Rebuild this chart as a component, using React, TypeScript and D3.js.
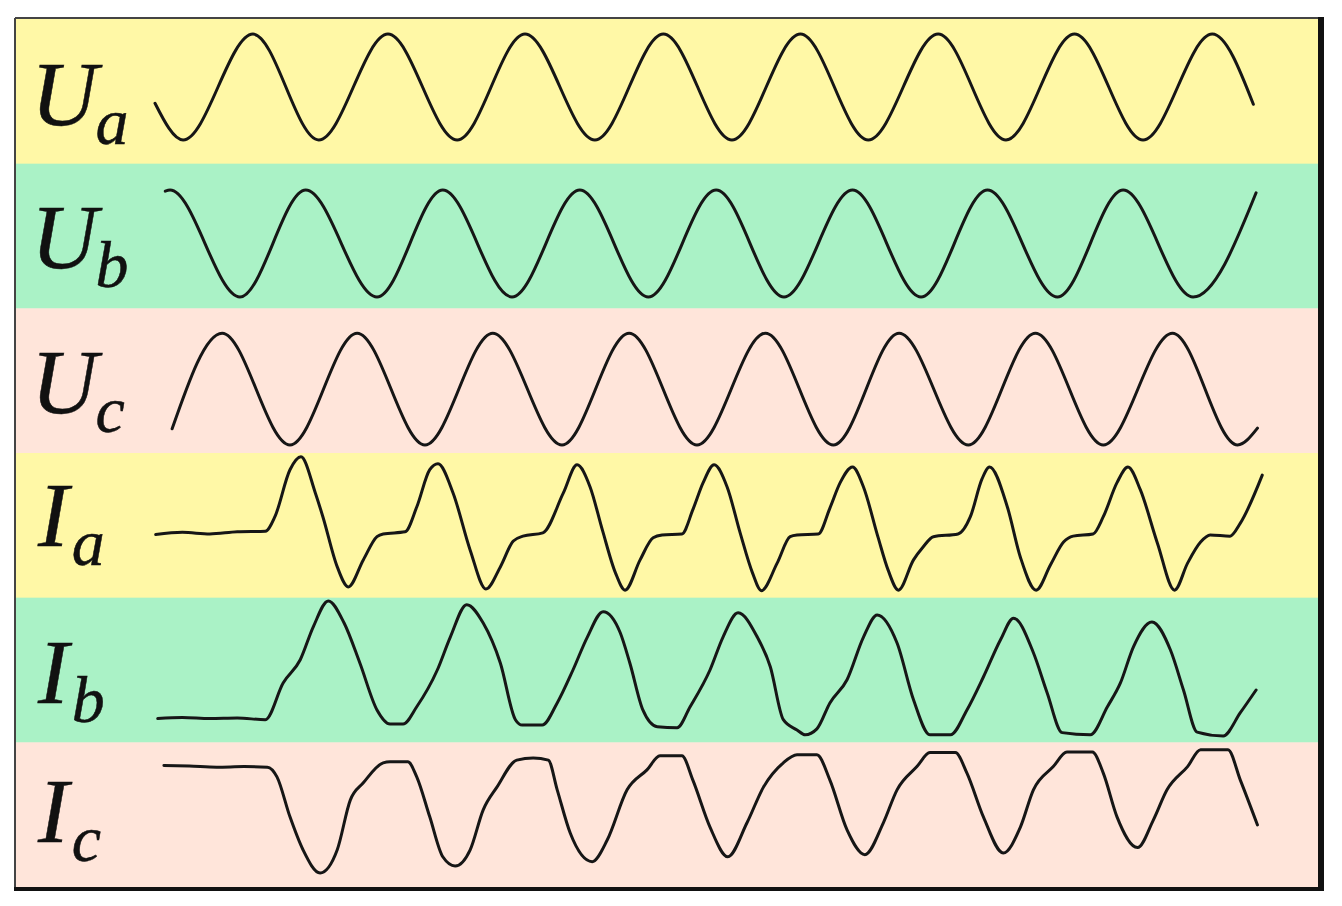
import React from 'react';
import * as d3 from 'd3';

const W = 1342;
const H = 906;

// time in ms (50 Hz, about 8 cycles), values in p.u.
const rowKeys = ['Ua', 'Ub', 'Uc', 'Ia', 'Ib', 'Ic'];
const mainLetters = ['U', 'U', 'U', 'I', 'I', 'I'];
const subLetters = ['a', 'b', 'c', 'a', 'b', 'c'];
const bandColors = ['#FFF8A6', '#AAF2C6', '#FFE5DA', '#FFF8A6', '#AAF2C6', '#FFE5DA'];

const Ua: [number, number][] = [
  [0, -0.22], [4.1, -0.9], [14.3, 1.06], [23.9, -0.9], [34.0, 1.06], [44.1, -0.9],
  [54.0, 1.06], [64.2, -0.9], [74.2, 1.06], [84.2, -0.9], [94.2, 1.06], [104.1, -0.9],
  [114.3, 1.06], [124.2, -0.9], [134.2, 1.06], [144.2, -0.9], [154.3, 1.06], [160.3, -0.24],
];

const Ub: [number, number][] = [
  [1.5, 0.83], [2.2, 0.85], [12.4, -1.13], [22.0, 0.85], [32.4, -1.13], [42.0, 0.85],
  [52.1, -1.13], [62.0, 0.85], [72.0, -1.13], [81.9, 0.85], [91.8, -1.13], [101.8, 0.85],
  [111.8, -1.13], [121.5, 0.85], [131.7, -1.13], [141.3, 0.85], [151.5, -1.13], [160.7, 0.8],
];

const Uc: [number, number][] = [
  [2.5, -0.89], [9.8, 0.88], [19.7, -1.19], [29.5, 0.88], [39.4, -1.19], [49.3, 0.88],
  [59.4, -1.19], [69.2, 0.88], [79.1, -1.19], [89.1, 0.88], [99.0, -1.19], [108.6, 0.88],
  [118.7, -1.19], [128.5, 0.88], [138.4, -1.19], [148.5, 0.88], [158.0, -1.19], [160.9, -0.88],
];

const Ia: [number, number][] = [
  [0.1, -0.17], [4.0, -0.13], [8.0, -0.16], [12.0, -0.12], [16.1, -0.11],
  [17.5, 0.16], [19.7, 1.03], [21.3, 1.27], [23.4, 0.6], [24.5, 0.16], [26.6, -0.77], [28.2, -1.14],
  [30.4, -0.64], [32.4, -0.21], [33.3, -0.16], [36.5, -0.12], [38.2, 0.34], [40.1, 1.03], [41.3, 1.14],
  [43.5, 0.6], [46.0, -0.46], [48.3, -1.18], [50.4, -0.77], [52.3, -0.29], [53.7, -0.2], [56.6, -0.14],
  [59.6, 0.6], [61.6, 1.12], [63.5, 0.71], [65.3, -0.09], [67.2, -0.88], [68.6, -1.2],
  [70.8, -0.64], [72.7, -0.23], [74.0, -0.18], [76.9, -0.16], [78.5, 0.29], [80.0, 0.79], [81.6, 1.12],
  [83.5, 0.71], [85.4, -0.14], [87.2, -0.88], [88.5, -1.21], [90.8, -0.7], [92.7, -0.21], [93.7, -0.18],
  [96.8, -0.16], [98.5, 0.32], [100.0, 0.79], [101.8, 1.08], [103.4, 0.71], [105.5, -0.21], [107.0, -0.83],
  [108.5, -1.2], [110.7, -0.64], [112.1, -0.4], [113.6, -0.21], [117.2, -0.16], [119.0, 0.16], [120.7, 0.86],
  [121.8, 1.08], [124.4, 0.34], [126.3, -0.59], [128.6, -1.2], [130.7, -0.73], [132.6, -0.31], [134.0, -0.2],
  [136.9, -0.16], [138.4, 0.16], [140.4, 0.79], [142.0, 1.08], [143.8, 0.66], [146.3, -0.33], [148.8, -1.2],
  [150.7, -0.7], [152.6, -0.31], [154.0, -0.18], [156.9, -0.2], [158.4, 0.04], [161.6, 0.93],
];

const Ib: [number, number][] = [
  [0.4, -0.9], [4.0, -0.88], [8.0, -0.9], [12.0, -0.89], [16.1, -0.92],
  [18.7, -0.24], [21.2, 0.19], [23.1, 0.8], [25.3, 1.28], [27.6, 0.87], [29.9, 0.13], [32.4, -0.74],
  [34.3, -1.0], [36.2, -1.0], [38.2, -0.68], [41.2, 0.0], [43.1, 0.61], [45.5, 1.21], [47.9, 0.87],
  [50.4, 0.13], [52.6, -0.92], [53.6, -1.02], [56.5, -1.02], [58.7, -0.61], [61.0, 0.0], [63.1, 0.61],
  [65.4, 1.08], [67.9, 0.69], [69.3, 0.13], [71.2, -0.74], [73.3, -1.05], [76.2, -1.07], [78.1, -0.68],
  [81.0, 0.0], [82.9, 0.61], [85.1, 1.06], [87.9, 0.61], [89.8, 0.06], [91.7, -0.92], [93.7, -1.11],
  [94.9, -1.2], [96.6, -1.09], [98.5, -0.61], [101.0, -0.18], [103.4, 0.61], [105.4, 1.02], [108.3, 0.5],
  [110.7, -0.55], [113.1, -1.2], [116.1, -1.2], [118.5, -0.74], [120.9, -0.13], [123.4, 0.56], [125.3, 0.96],
  [128.2, 0.32], [130.2, -0.42], [132.4, -1.16], [136.5, -1.2], [139.0, -0.68], [140.9, -0.24], [142.8, 0.43],
  [145.5, 0.89], [148.2, 0.37], [150.1, -0.37], [152.1, -1.15], [155.9, -1.22], [158.4, -0.79], [160.7, -0.37],
];

const Ic: [number, number][] = [
  [1.3, 0.91], [5.0, 0.9], [9.0, 0.88], [13.0, 0.89], [16.4, 0.88],
  [17.8, 0.7], [19.7, -0.04], [21.6, -0.65], [24.1, -1.08], [26.6, -0.65], [28.5, 0.27], [30.4, 0.59],
  [33.3, 0.96], [34.3, 0.98], [36.9, 0.98], [38.2, 0.7], [40.1, -0.04], [42.0, -0.78], [43.8, -0.95],
  [46.0, -0.65], [47.9, 0.09], [49.9, 0.51], [52.8, 1.01], [55.2, 1.05], [57.4, 1.01], [58.7, 0.46],
  [60.6, -0.34], [63.8, -0.87], [66.0, -0.47], [68.9, 0.46], [71.8, 0.83], [73.7, 1.09], [76.9, 1.09],
  [78.5, 0.64], [81.0, -0.23], [83.6, -0.78], [86.4, -0.15], [88.8, 0.51], [91.7, 0.96], [93.7, 1.11],
  [96.6, 1.11], [98.5, 0.64], [101.0, -0.28], [103.6, -0.74], [106.3, -0.15], [108.3, 0.46], [111.2, 0.89],
  [113.1, 1.15], [116.8, 1.15], [118.5, 0.77], [120.9, -0.04], [123.8, -0.71], [126.3, -0.23], [128.2, 0.46],
  [131.1, 0.89], [133.1, 1.16], [136.8, 1.16], [138.4, 0.77], [140.4, -0.04], [143.4, -0.61], [145.7, -0.1],
  [147.7, 0.46], [150.7, 0.89], [152.6, 1.2], [156.6, 1.2], [158.4, 0.64], [160.9, -0.19],
];

const series = [Ua, Ub, Uc, Ia, Ib, Ic];

// layout
const frame = { left: 16, top: 19, right: 1318, bottom: 887 };
const plotLeft = 155;
const plotRight = 1265;
const amp = 54; // px per p.u.
const labelBaseline = [106, 104, 105, 93, 105, 100];
const labelX = [31, 31, 31, 38, 38, 38];

export default function App() {
  const x = d3.scaleLinear().domain([0, 162]).range([plotLeft, plotRight]);
  const band = d3.scaleBand<string>().domain(rowKeys).range([frame.top, frame.bottom]).padding(0);
  const bh = band.bandwidth();

  return (
    <svg
      width={W}
      height={H}
      style={{ position: 'absolute', left: 0, top: 0, background: '#fff' }}
    >
      {rowKeys.map((k, i) => (
        <rect
          key={'bg' + k}
          x={frame.left}
          y={band(k)!}
          width={frame.right - frame.left}
          height={bh + 0.5}
          fill={bandColors[i]}
        />
      ))}

      {/* frame: thin top/left edge, heavy right/bottom edge */}
      <line x1={15} y1={18} x2={1320} y2={18} stroke="#444" strokeWidth={2} />
      <line x1={15} y1={18} x2={15} y2={890} stroke="#444" strokeWidth={2} />
      <rect x={1318} y={17} width={6} height={874} fill="#111" />
      <rect x={14} y={887} width={1310} height={4} fill="#111" />

      {rowKeys.map((k, i) => {
        const c = band(k)! + bh / 2;
        const y = d3.scaleLinear().domain([-1, 1]).range([c + amp, c - amp]);
        const line = d3
          .line<[number, number]>()
          .x((d) => x(d[0]))
          .y((d) => y(d[1]))
          .curve(d3.curveMonotoneX);
        return (
          <path
            key={'w' + k}
            d={line(series[i]) || ''}
            fill="none"
            stroke="#161616"
            strokeWidth={3}
            strokeLinejoin="round"
            strokeLinecap="round"
          />
        );
      })}

      {rowKeys.map((k, i) => (
        <text
          key={'l' + k}
          x={labelX[i]}
          y={band(k)! + labelBaseline[i]}
          fontFamily="'Liberation Serif', 'DejaVu Serif', serif"
          fontStyle="italic"
          fill="#111"
          stroke="#111"
          strokeWidth={0.5}
          fontSize={92}
        >
          {mainLetters[i]}
          <tspan fontSize={66} dy={19} dx={i > 2 ? 3 : -2}>
            {subLetters[i]}
          </tspan>
        </text>
      ))}
    </svg>
  );
}
